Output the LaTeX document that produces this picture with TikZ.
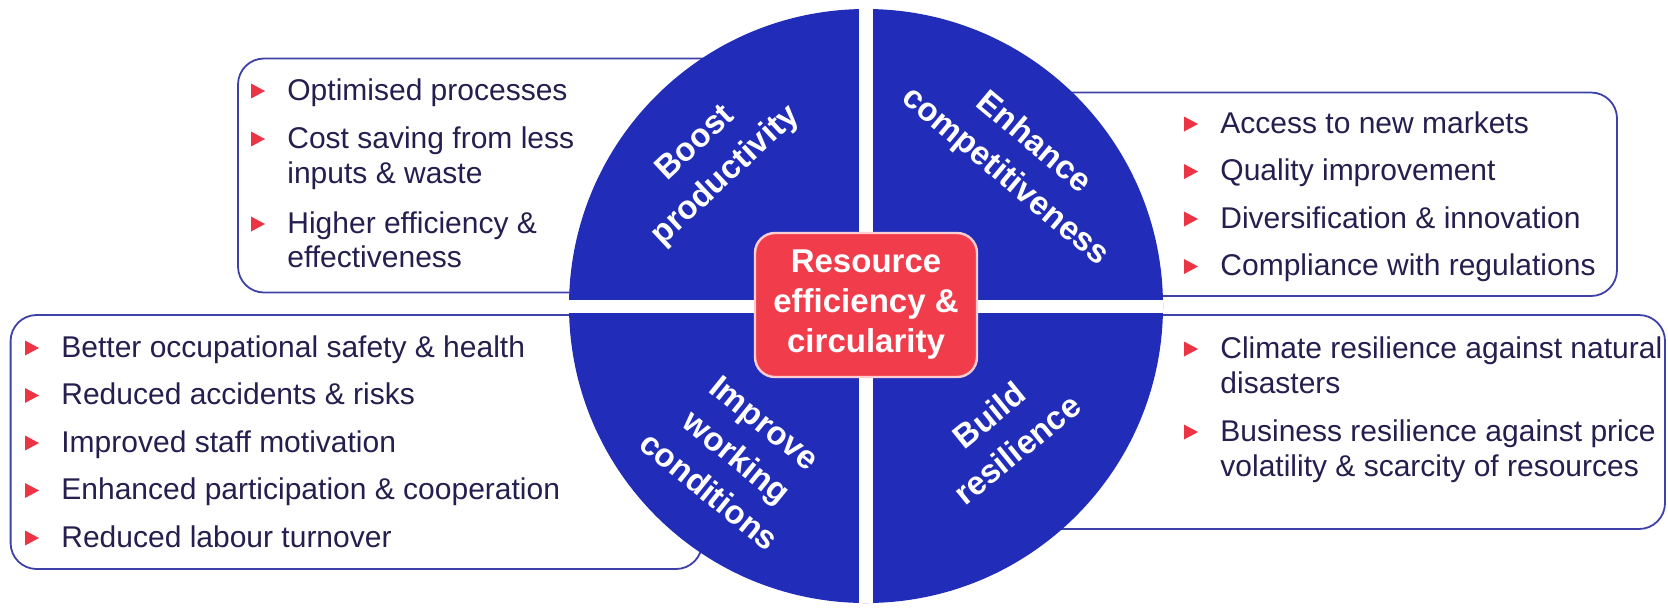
\documentclass[tikz,border=0pt]{standalone}
\usepackage{fontspec}
\setmainfont{Liberation Sans}
\usetikzlibrary{positioning}

\definecolor{discblue}{RGB}{33,45,185}
\definecolor{boxblue}{RGB}{62,66,168}
\definecolor{textnavy}{RGB}{38,30,78}
\definecolor{bulletred}{RGB}{236,52,68}
\definecolor{corered}{RGB}{241,60,76}
\definecolor{coreedge}{RGB}{252,206,210}

% red pointer in front of an item, placed from the item's baseline
\newcommand{\itembullet}[1]{%
  \fill[bulletred] ([shift={(-36,-16.5)}]#1.base west) -- ([shift={(-22,-9)}]#1.base west)
                   -- ([shift={(-36,-1.5)}]#1.base west) -- cycle;}

\begin{document}
\begin{tikzpicture}[x=0.5pt,y=-0.5pt]
    \tikzstyle{panel}=[draw=boxblue, line width=0.9pt, rounded corners=13pt]
    \tikzstyle{txt}=[anchor=base west, inner sep=0pt, text=textnavy, font=\fontsize{15}{17.5}\selectfont]
    \tikzstyle{quad}=[align=center, inner sep=0pt, text=white, font=\bfseries\fontsize{16.5}{22}\selectfont]
    \tikzstyle{gap}=[white, line width=7pt]
    \useasboundingbox (0,0) rectangle (1668,607);

    % frames behind the disc
    \draw[panel] (238,58.5) rectangle (866,292.5);
    \draw[panel] (866,92.5) rectangle (1617,296);
    \draw[panel] (10.6,315) rectangle (702,569);
    \draw[panel] (866,315) rectangle (1665,529);

    % disc cut in four
    \node[circle, fill=discblue, minimum size=297pt, inner sep=0pt] (disc) at (866,306) {};
    \draw[gap] (disc.north) -- (disc.south);
    \draw[gap, line width=6.5pt] (disc.west) -- (disc.east);

    \node[rectangle, rounded corners=10pt, fill=corered, draw=coreedge, line width=1.2pt,
          minimum width=111pt, minimum height=72pt, inner sep=0pt, align=center,
          text=white, font=\bfseries\fontsize{16.5}{20}\selectfont] (core) at (866,305)
          {Resource\\efficiency \&\\circularity};

    \node[quad, rotate=43]  (boost) at (711,160) {Boost\\productivity};
    \node[quad, rotate=-40] (enhance) at (1019,160) {Enhance\\competitiveness};
    \node[quad, rotate=-39] (improve) at (737,457) {Improve\\working\\conditions};
    \node[quad, rotate=39]  (build) at (1003,432) {Build\\resilience};

    % top left
    \foreach \n/\y/\t in {tl1/100/Optimised processes, tl2/148/Cost saving from less,
                          tl2b/183/inputs \& waste, tl3/233/Higher efficiency \&,
                          tl3b/267/effectiveness}
        \node[txt] (\n) at (287,\y) {\t};
    % top right
    \foreach \n/\y/\t in {tr1/133/Access to new markets, tr2/180.5/Quality improvement,
                          tr3/228/Diversification \& innovation, tr4/275.5/Compliance with regulations}
        \node[txt] (\n) at (1220,\y) {\t};
    % bottom left
    \foreach \n/\y/\t in {bl1/357/Better occupational safety \& health, bl2/404.5/Reduced accidents \& risks,
                          bl3/452/Improved staff motivation, bl4/499.5/Enhanced participation \& cooperation,
                          bl5/547/Reduced labour turnover}
        \node[txt] (\n) at (61,\y) {\t};
    % bottom right
    \foreach \n/\y/\t in {br1/358/Climate resilience against natural, br1b/393/disasters,
                          br2/441/Business resilience against price, br2b/476/volatility \& scarcity of resources}
        \node[txt] (\n) at (1220,\y) {\t};

    \foreach \n in {tl1,tl2,tl3,tr1,tr2,tr3,tr4,bl1,bl2,bl3,bl4,bl5,br1,br2}
        {\itembullet{\n}}
\end{tikzpicture}
\end{document}
